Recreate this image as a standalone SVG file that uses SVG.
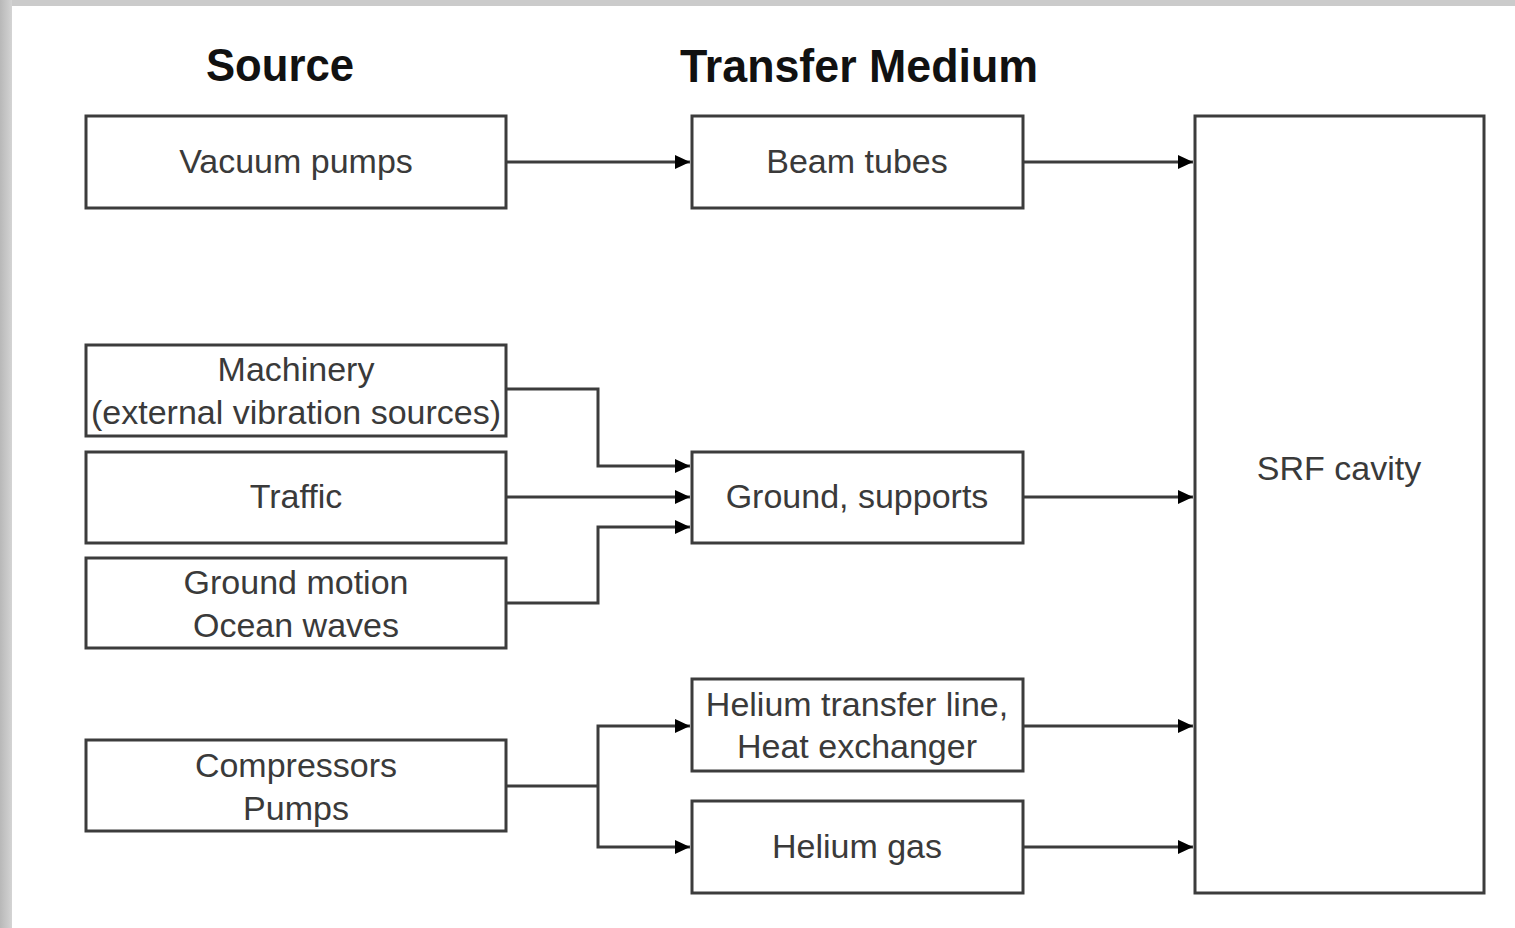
<svg xmlns="http://www.w3.org/2000/svg" width="1515" height="928" viewBox="0 0 1515 928">
<style>
.box{fill:#fff;stroke:#3c3c3c;stroke-width:3}
.lbl{font-family:"Liberation Sans",Arial,sans-serif;font-size:34px;fill:#3a3a3a;text-anchor:middle}
.ttl{font-family:"Liberation Sans",Arial,sans-serif;font-size:46px;font-weight:bold;fill:#111;text-anchor:middle}
.ln{fill:none;stroke:#3c3c3c;stroke-width:3}
</style>
<defs>
<marker id="arr" markerUnits="userSpaceOnUse" markerWidth="16" markerHeight="16" refX="15" refY="8" orient="auto">
<path d="M0,1 L15,8 L0,15 Z" fill="#000"/>
</marker>
<linearGradient id="lg" x1="0" y1="0" x2="1" y2="0">
<stop offset="0" stop-color="#b8b8b8"/><stop offset="1" stop-color="#d4d4d4"/>
</linearGradient>
</defs>
<rect x="0" y="0" width="1515" height="928" fill="#fff"/>
<rect x="0" y="0" width="1515" height="6" fill="#cbcbcb"/>
<rect x="0" y="0" width="12" height="928" fill="url(#lg)"/>
<text class="ttl" x="280" y="81" textLength="148" lengthAdjust="spacingAndGlyphs">Source</text>
<text class="ttl" x="859" y="82" textLength="358" lengthAdjust="spacingAndGlyphs">Transfer Medium</text>
<g id="vacuum"><rect class="box" x="86" y="116" width="420" height="92"/><text class="lbl" x="296" y="173">Vacuum pumps</text></g>
<g id="machinery"><rect class="box" x="86" y="345" width="420" height="91"/><text class="lbl" x="296" y="381">Machinery</text><text class="lbl" x="296" y="424">(external vibration sources)</text></g>
<g id="traffic"><rect class="box" x="86" y="452" width="420" height="91"/><text class="lbl" x="296" y="508">Traffic</text></g>
<g id="groundmotion"><rect class="box" x="86" y="558" width="420" height="90"/><text class="lbl" x="296" y="594">Ground motion</text><text class="lbl" x="296" y="637">Ocean waves</text></g>
<g id="compressors"><rect class="box" x="86" y="740" width="420" height="91"/><text class="lbl" x="296" y="777">Compressors</text><text class="lbl" x="296" y="820">Pumps</text></g>
<g id="beamtubes"><rect class="box" x="692" y="116" width="331" height="92"/><text class="lbl" x="857" y="173">Beam tubes</text></g>
<g id="ground"><rect class="box" x="692" y="452" width="331" height="91"/><text class="lbl" x="857" y="508">Ground, supports</text></g>
<g id="heliumline"><rect class="box" x="692" y="679" width="331" height="92"/><text class="lbl" x="857" y="716">Helium transfer line,</text><text class="lbl" x="857" y="758">Heat exchanger</text></g>
<g id="heliumgas"><rect class="box" x="692" y="801" width="331" height="92"/><text class="lbl" x="857" y="858">Helium gas</text></g>
<g id="srf"><rect class="box" x="1195" y="116" width="289" height="777"/><text class="lbl" x="1339" y="480">SRF cavity</text></g>
<g id="connectors">
<path class="ln" d="M506,162 H690" marker-end="url(#arr)"/>
<path class="ln" d="M1023,162 H1193" marker-end="url(#arr)"/>
<path class="ln" d="M506,389 H598 V466 H690" marker-end="url(#arr)"/>
<path class="ln" d="M506,497 H690" marker-end="url(#arr)"/>
<path class="ln" d="M506,603 H598 V527 H690" marker-end="url(#arr)"/>
<path class="ln" d="M1023,497 H1193" marker-end="url(#arr)"/>
<path class="ln" d="M506,786 H598"/>
<path class="ln" d="M598,786 V726 H690" marker-end="url(#arr)"/>
<path class="ln" d="M598,786 V847 H690" marker-end="url(#arr)"/>
<path class="ln" d="M1023,726 H1193" marker-end="url(#arr)"/>
<path class="ln" d="M1023,847 H1193" marker-end="url(#arr)"/>
</g>
</svg>
